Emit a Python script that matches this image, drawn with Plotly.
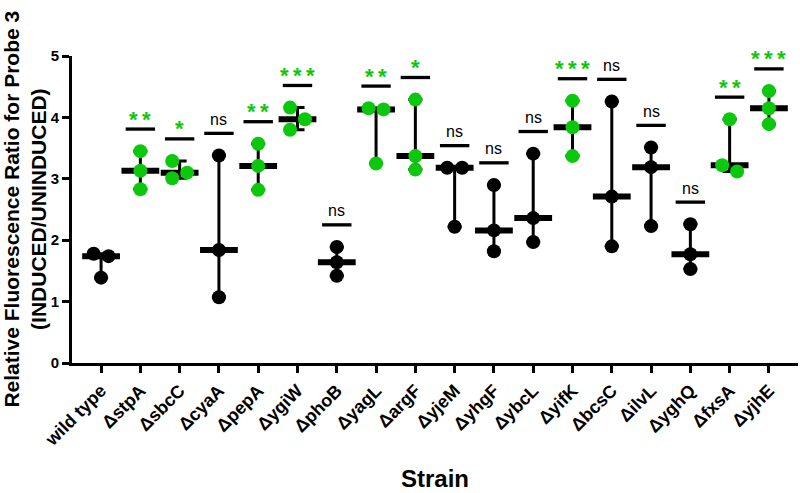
import plotly.graph_objects as go

strains = ["wild type", "ΔstpA", "ΔsbcC", "ΔcyaA", "ΔpepA", "ΔygiW", "ΔphoB", "ΔyagL", "ΔargF",
           "ΔyjeM", "ΔyhgF", "ΔybcL", "ΔyifK", "ΔbcsC", "ΔilvL", "ΔyghQ", "ΔfxsA", "ΔyjhE"]
rep1 = [1.78, 3.45, 3.29, 3.38, 3.57, 4.16, 1.89, 4.15, 4.29, 3.18, 2.90, 3.41, 4.27, 4.26, 3.51, 2.26, 3.97, 4.43]
rep2 = [1.74, 3.13, 3.10, 1.84, 3.21, 3.97, 1.64, 4.13, 3.37, 3.18, 2.16, 2.36, 3.84, 2.71, 3.19, 1.77, 3.22, 4.15]
rep3 = [1.39, 2.83, 3.01, 1.07, 2.82, 3.80, 1.42, 3.25, 3.15, 2.22, 1.82, 1.97, 3.37, 1.90, 2.23, 1.53, 3.12, 3.89]
significance = ["", "**", "*", "ns", "**", "***", "ns", "**", "*", "ns", "ns", "ns", "***", "ns", "ns", "ns", "**", "***"]
y_ticks = [0, 1, 2, 3, 4, 5]
y_title = "Relative Fluorescence Ratio for Probe 3<br>(INDUCED/UNINDUCED)"
x_title = "Strain"

GREEN = "#0CC80C"
BLACK = "black"
FONT = "Arial, Liberation Sans, sans-serif"

fig = go.Figure()

def swarm_offsets(vals, thr=0.2, d=0.19):
    order = sorted(range(len(vals)), key=lambda k: -vals[k])
    offs = [0.0] * len(vals)
    clusters = [[order[0]]]
    for k in order[1:]:
        if vals[clusters[-1][-1]] - vals[k] < thr:
            clusters[-1].append(k)
        else:
            clusters.append([k])
    for c in clusters:
        if len(c) > 1:
            for j, k in enumerate(c):
                offs[k] = -d if j % 2 == 0 else d
    return offs

med_x, med_y, err_p, err_m = [], [], [], []
for i in range(len(strains)):
    s = sorted([rep1[i], rep2[i], rep3[i]])
    med_x.append(i)
    med_y.append(s[1])
    err_p.append(s[2] - s[1])
    err_m.append(s[1] - s[0])

# median + range
fig.add_trace(go.Scatter(
    x=med_x, y=med_y, mode="markers",
    marker=dict(symbol="line-ew", size=27, line=dict(width=6, color=BLACK), color=BLACK),
    error_y=dict(type="data", symmetric=False, array=err_p, arrayminus=err_m,
                 thickness=3, width=7, color=BLACK),
    showlegend=False, hoverinfo="skip"))

# points
for i in range(len(strains)):
    vals = [rep1[i], rep2[i], rep3[i]]
    offs = swarm_offsets(vals)
    col = GREEN if significance[i] not in ("", "ns") else BLACK
    fig.add_trace(go.Scatter(
        x=[i + o for o in offs], y=vals, mode="markers",
        marker=dict(size=14, color=col, line=dict(width=0)),
        showlegend=False))

# significance bars and labels
sx, sy = [], []
annotations = []
for i in range(len(strains)):
    if not significance[i]:
        continue
    ly = max(rep1[i], rep2[i], rep3[i]) + 0.36
    sx.append(i)
    sy.append(ly)
    if significance[i] == "ns":
        annotations.append(dict(x=i, y=ly, text="ns", showarrow=False, xref="x", yref="y",
                                yanchor="middle", yshift=14,
                                font=dict(family=FONT, size=16, color=BLACK)))
    else:
        annotations.append(dict(x=i, y=ly, text="\u2009".join(significance[i]), showarrow=False,
                                xref="x", yref="y", yanchor="middle", yshift=10,
                                font=dict(family=FONT, size=22, color=GREEN, weight="bold")))

fig.add_trace(go.Scatter(
    x=sx, y=sy, mode="markers",
    marker=dict(symbol="line-ew", size=21, line=dict(width=3.3, color=BLACK)),
    showlegend=False, hoverinfo="skip"))

# axis titles
annotations.append(dict(text=y_title, xref="paper", yref="paper", x=-0.066, y=0.5,
                        xanchor="center", yanchor="middle", textangle=-90, showarrow=False,
                        font=dict(family=FONT, size=21, color=BLACK, weight="bold")))
annotations.append(dict(text=x_title, xref="paper", yref="paper", x=0.5, y=-0.375,
                        xanchor="center", yanchor="middle", showarrow=False,
                        font=dict(family=FONT, size=24, color=BLACK, weight="bold")))

fig.update_layout(
    width=800, height=493,
    margin=dict(l=72, r=2, t=56, b=130),
    paper_bgcolor="white", plot_bgcolor="white",
    font=dict(family=FONT, color=BLACK),
    annotations=annotations,
    xaxis=dict(
        range=[-0.74, 17.74], automargin=False,
        tickvals=list(range(len(strains))), ticktext=strains,
        tickangle=-45, tickfont=dict(size=18, weight="bold", family=FONT),
        showline=True, linewidth=3, linecolor=BLACK,
        ticks="outside", ticklen=7, tickwidth=3, tickcolor=BLACK,
        showgrid=False, zeroline=False,
    ),
    yaxis=dict(
        range=[0, 5], tickvals=y_ticks, automargin=False,
        tickfont=dict(size=15, weight="bold", family=FONT),
        showline=True, linewidth=3, linecolor=BLACK,
        ticks="outside", ticklen=7, tickwidth=3, tickcolor=BLACK,
        showgrid=False, zeroline=False,
    ),
)

fig.write_html("out.html", config={"displayModeBar": False},
               post_script="document.body.style.margin='0';")
